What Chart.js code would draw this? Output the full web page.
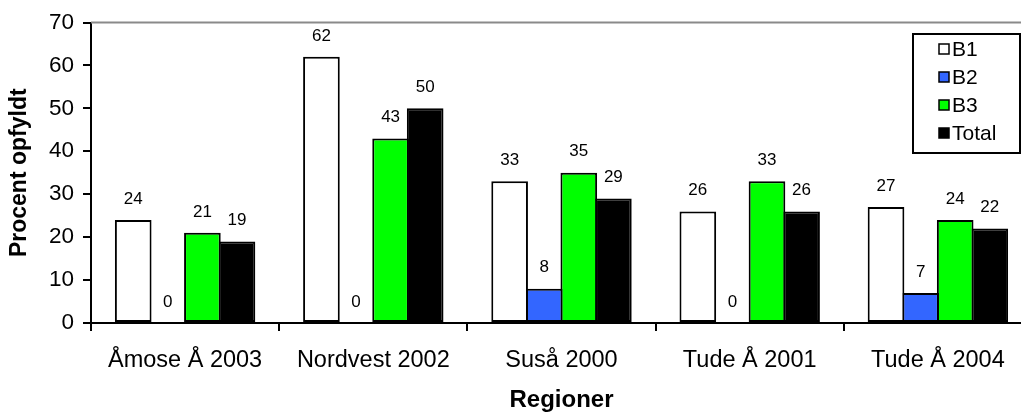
<!DOCTYPE html>
<html>
<head>
<meta charset="utf-8">
<title>Procent opfyldt pr. region</title>
<script src="https://cdn.jsdelivr.net/npm/chart.js@4/dist/chart.umd.min.js"></script>
<style>
  html, body { margin: 0; padding: 0; background: #fff; overflow: hidden; }
  #wrap { position: relative; width: 1040px; height: 412px; }
</style>
</head>
<body>
<div id="wrap"><canvas id="c"></canvas></div>
<script>
// Regions and fulfilment percentages per criterion
const regions = ['Åmose Å 2003', 'Nordvest 2002', 'Suså 2000', 'Tude Å 2001', 'Tude Å 2004'];
const b1 = [24, 62, 33, 26, 27];
const b2 = [0, 0, 8, 0, 7];
const b3 = [21, 43, 35, 33, 24];
const total = [19, 50, 29, 26, 22];
const yTicks = [0, 10, 20, 30, 40, 50, 60, 70];

const FONT = "'Liberation Sans', Arial, sans-serif";

// Value labels above each bar
const valueLabels = {
  id: 'valueLabels',
  afterDatasetsDraw(chart) {
    const ctx = chart.ctx;
    ctx.save();
    ctx.font = '17px ' + FONT;
    ctx.fillStyle = '#000';
    ctx.textAlign = 'center';
    ctx.textBaseline = 'middle';
    chart.data.datasets.forEach((ds, i) => {
      const meta = chart.getDatasetMeta(i);
      meta.data.forEach((bar, j) => {
        ctx.fillText(String(ds.data[j]), bar.x, bar.y - 21);
      });
    });
    ctx.restore();
  }
};

// Grey frame line along the top of the plot area
const topFrame = {
  id: 'topFrame',
  beforeDatasetsDraw(chart) {
    const { ctx, chartArea } = chart;
    ctx.save();
    ctx.strokeStyle = '#8a8a8a';
    ctx.lineWidth = 2;
    ctx.beginPath();
    ctx.moveTo(chartArea.left, chartArea.top);
    ctx.lineTo(chartArea.right + 20, chartArea.top);
    ctx.stroke();
    ctx.restore();
  }
};

// Boxed legend in the upper right corner
const boxLegend = {
  id: 'boxLegend',
  afterDraw(chart) {
    const ctx = chart.ctx;
    const x = 913, y = 34, w = 107, h = 119;
    ctx.save();
    ctx.fillStyle = '#fff';
    ctx.fillRect(x, y, w, h);
    ctx.strokeStyle = '#000';
    ctx.lineWidth = 2;
    ctx.strokeRect(x, y, w, h);
    ctx.font = '21px ' + FONT;
    ctx.textAlign = 'left';
    ctx.textBaseline = 'middle';
    chart.data.datasets.forEach((ds, i) => {
      const cy = 49 + i * 28;
      ctx.fillStyle = ds.backgroundColor;
      ctx.fillRect(939, cy - 5, 10, 10);
      ctx.strokeStyle = '#000';
      ctx.lineWidth = 1.5;
      ctx.strokeRect(939, cy - 5, 10, 10);
      ctx.fillStyle = '#000';
      ctx.fillText(ds.label, 952, cy + 1);
    });
    ctx.restore();
  }
};

const mk = (label, data, color) => ({
  label, data,
  backgroundColor: color,
  borderColor: '#000',
  borderWidth: 2,
  borderSkipped: false,
  categoryPercentage: 0.735,
  barPercentage: 1.06
});

new Chart(document.getElementById('c'), {
  type: 'bar',
  data: {
    labels: regions,
    datasets: [
      mk('B1', b1, '#ffffff'),
      mk('B2', b2, '#3366ff'),
      mk('B3', b3, '#00ff00'),
      mk('Total', total, '#000000')
    ]
  },
  options: {
    responsive: true,
    maintainAspectRatio: false,
    animation: false,
    events: [],
    layout: { padding: { top: 22, right: 8, bottom: 0, left: 0 } },
    plugins: { legend: { display: false }, tooltip: { enabled: false } },
    scales: {
      x: {
        afterFit(s) { s.height = 89; },
        grid: {
          offset: true,
          drawOnChartArea: false,
          drawTicks: true,
          tickLength: 8,
          color: '#000',
          lineWidth: 2
        },
        border: { color: '#000', width: 2 },
        ticks: {
          color: '#000',
          font: { family: FONT, size: 23.5 },
          padding: 15,
          maxRotation: 0,
          autoSkip: false
        },
        title: {
          display: true,
          text: 'Regioner',
          color: '#000',
          font: { family: FONT, size: 24, weight: 'bold', lineHeight: 1 },
          padding: { top: 0, bottom: 0 }
        }
      },
      y: {
        min: 0,
        max: 70,
        afterFit(s) { s.width = 91; },
        afterBuildTicks(s) { s.ticks = yTicks.map(v => ({ value: v })); },
        grid: {
          drawOnChartArea: false,
          drawTicks: true,
          tickLength: 8,
          color: '#000',
          lineWidth: 2
        },
        border: { color: '#000', width: 2 },
        ticks: {
          color: '#000',
          font: { family: FONT, size: 22.5 },
          padding: 9
        },
        title: {
          display: true,
          text: 'Procent opfyldt',
          color: '#000',
          font: { family: FONT, size: 23, weight: 'bold', lineHeight: 1 },
          padding: { top: 8, bottom: 0 }
        }
      }
    }
  },
  plugins: [topFrame, valueLabels, boxLegend]
});
</script>
</body>
</html>
